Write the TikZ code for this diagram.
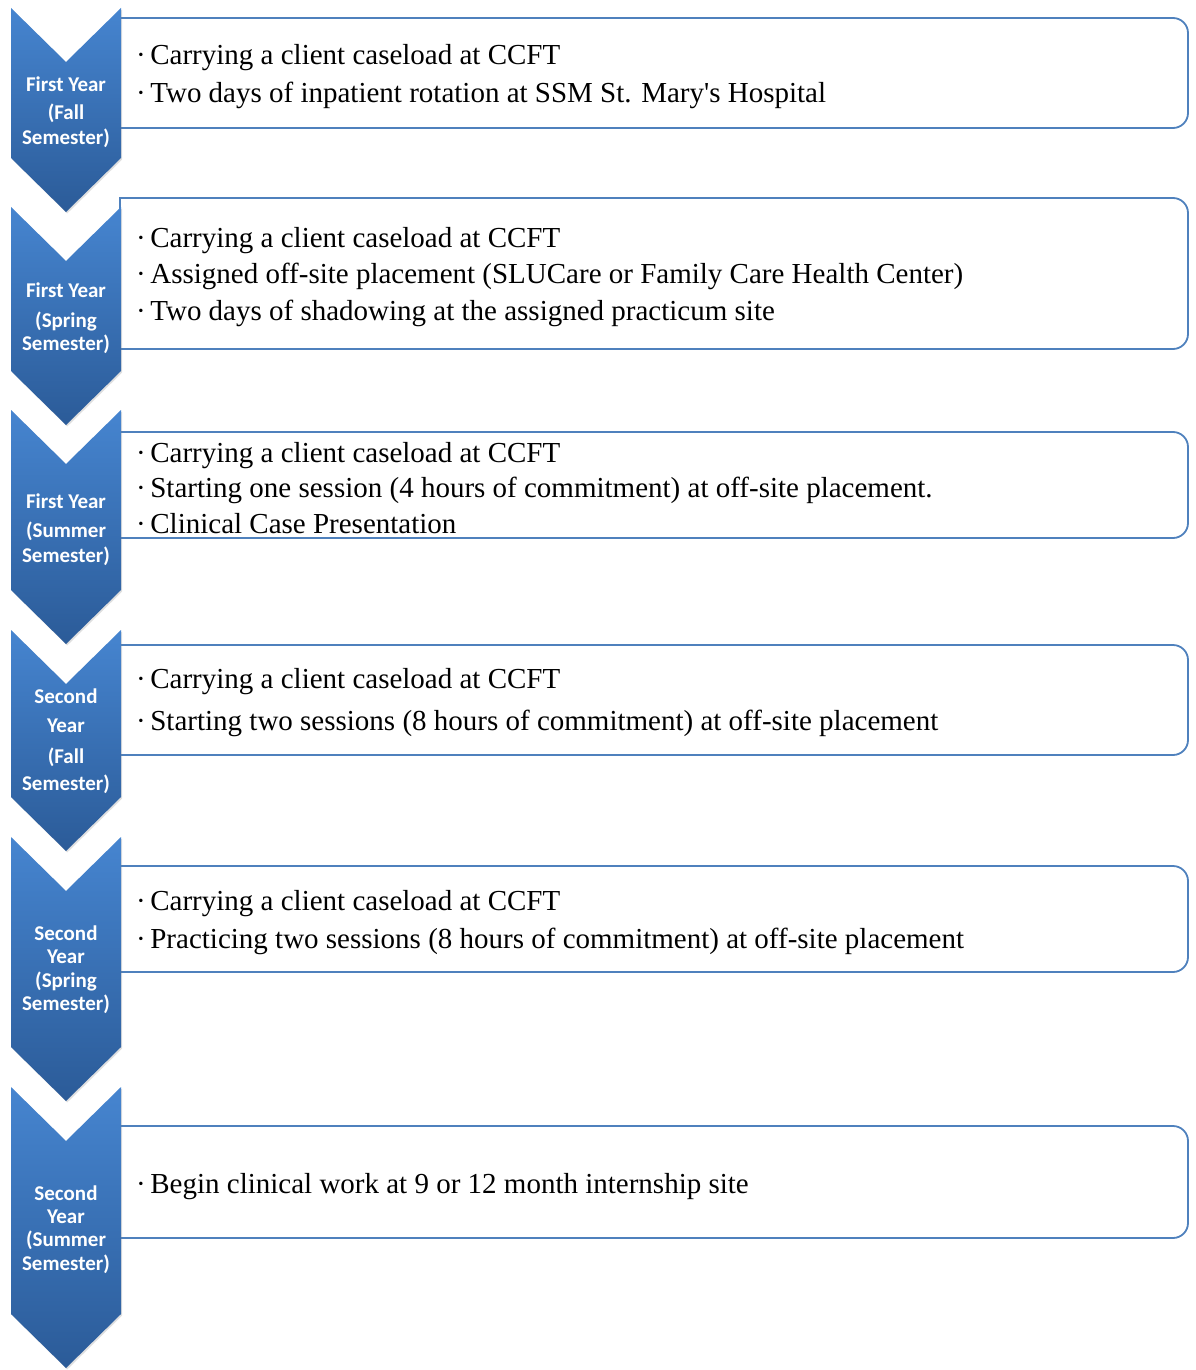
\documentclass[tikz,border=0pt]{standalone}
\usepackage{fontspec}
\setmainfont{Liberation Serif}
\newfontfamily\itemfont{Liberation Serif}
\newfontfamily\labfont{Carlito}[BoldFont={Carlito Bold}]
\usetikzlibrary{shadows}
\definecolor{boxblue}{RGB}{79,129,189}
\definecolor{chevtop}{RGB}{70,133,208}
\definecolor{chevbot}{RGB}{43,91,152}
\tikzset{
  boxline/.style={draw=boxblue,line width=1.8pt,fill=white},
  chev/.style={top color=chevtop,bottom color=chevbot,
    drop shadow={shadow xshift=1.2pt,shadow yshift=-1.5pt,opacity=0.25}},
  lab/.style={anchor=base,inner sep=0pt,text=white,font=\labfont\bfseries\fontsize{21}{25}\selectfont},
  item/.style={anchor=base west,inner sep=0pt,font=\itemfont\fontsize{29}{35}\selectfont},
}
\newcommand\bul{·\hspace{4.5pt}}
% box: #1 top, #2 bottom (pixels)
\newcommand\mybox[2]{%
  \draw[boxline] (120,-#2) -- (120,-#1) -- (1173,-#1)
    arc[start angle=90,end angle=0,radius=15] -- (1188,-#2+15)
    arc[start angle=0,end angle=-90,radius=15] -- cycle;}
% chevron: #1 top, #2 side end
\newcommand\mychev[2]{%
  \path[chev] (11,-#1) -- (66,-#1-54) -- (121,-#1) -- (121,-#2) -- (66,-#2-54) -- (11,-#2) -- cycle;}
\begin{document}
\begin{tikzpicture}[x=1pt,y=1pt]
\useasboundingbox (0,0) rectangle (1195,-1370);
% boxes
\mybox{18}{128}
\mybox{198}{349}
\mybox{432}{538}
\mybox{645}{755}
\mybox{866}{972}
\mybox{1126}{1238}
% chevrons
\mychev{8}{158}
\mychev{207}{371}
\mychev{410}{590}
\mychev{630}{797}
\mychev{837}{1047}
\mychev{1087}{1314}
% chevron labels
\node[lab] (c1a) at (66,-92) {First Year};
\node[lab] (c1b) at (66,-120) {(Fall};
\node[lab] (c1c) at (66,-144) {Semester)};
\node[lab] (c2a) at (66,-297) {First Year};
\node[lab] (c2b) at (66,-327) {(Spring};
\node[lab] (c2c) at (66,-350) {Semester)};
\node[lab] (c3a) at (66,-508) {First Year};
\node[lab] (c3b) at (66,-537) {(Summer};
\node[lab] (c3c) at (66,-562) {Semester)};
\node[lab] (c4a) at (66,-703) {Second};
\node[lab] (c4b) at (66,-732) {Year};
\node[lab] (c4c) at (66,-763) {(Fall};
\node[lab] (c4d) at (66,-790) {Semester)};
\node[lab] (c5a) at (66,-940) {Second};
\node[lab] (c5b) at (66,-963) {Year};
\node[lab] (c5c) at (66,-987) {(Spring};
\node[lab] (c5d) at (66,-1010) {Semester)};
\node[lab] (c6a) at (66,-1200) {Second};
\node[lab] (c6b) at (66,-1223) {Year};
\node[lab] (c6c) at (66,-1246) {(Summer};
\node[lab] (c6d) at (66,-1270) {Semester)};
% items
\node[item] (b1a) at (136,-65) {\bul Carrying a client caseload at CCFT};
\node[item] (b1b) at (136,-103) {\bul Two days of inpatient rotation at SSM St. Mary's Hospital};
\node[item] (b2a) at (136,-247) {\bul Carrying a client caseload at CCFT};
\node[item] (b2b) at (136,-283) {\bul Assigned off-site placement (SLUCare or Family Care Health Center)};
\node[item] (b2c) at (136,-320) {\bul Two days of shadowing at the assigned practicum site};
\node[item] (b3a) at (136,-462) {\bul Carrying a client caseload at CCFT};
\node[item] (b3b) at (136,-497) {\bul Starting one session (4 hours of commitment) at off-site placement.};
\node[item] (b3c) at (136,-533) {\bul Clinical Case Presentation};
\node[item] (b4a) at (136,-688) {\bul Carrying a client caseload at CCFT};
\node[item] (b4b) at (136,-730) {\bul Starting two sessions (8 hours of commitment) at off-site placement};
\node[item] (b5a) at (136,-910) {\bul Carrying a client caseload at CCFT};
\node[item] (b5b) at (136,-948) {\bul Practicing two sessions (8 hours of commitment) at off-site placement};
\node[item] (b6a) at (136,-1193) {\bul Begin clinical work at 9 or 12 month internship site};
\end{tikzpicture}
\end{document}
